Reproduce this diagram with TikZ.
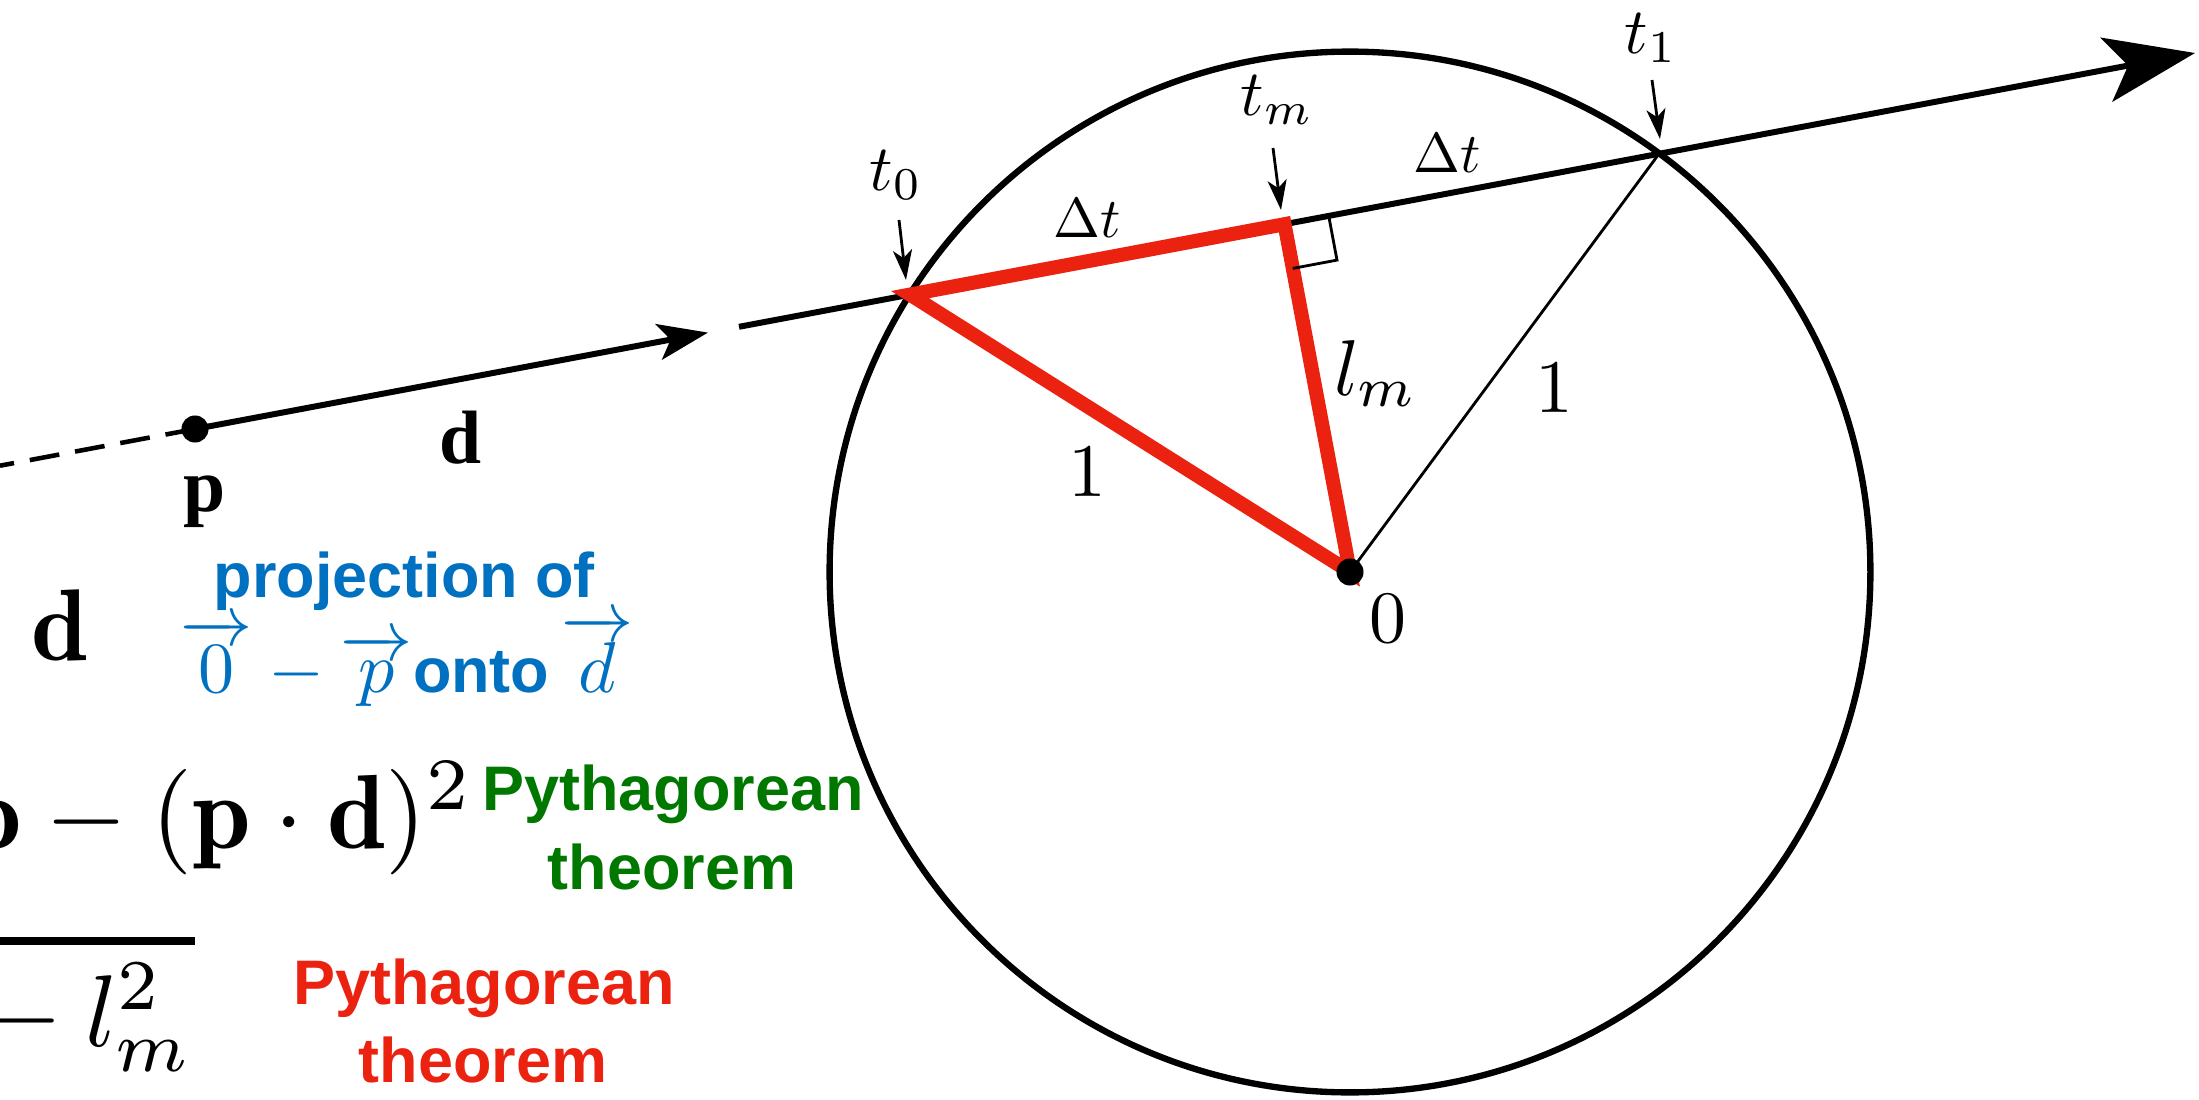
\documentclass[tikz,border=0pt]{standalone}
\usepackage{fontspec}
\usepackage{amsmath}
\usepackage{graphicx}
\usetikzlibrary{arrows.meta,calc}
\setsansfont{Liberation Sans}
\newfontfamily\tms{Liberation Serif}
\definecolor{myblue}{RGB}{0,112,192}
\definecolor{mygreen}{RGB}{0,120,0}
\definecolor{myred}{RGB}{236,34,16}
\tikzset{
  rayline/.style={line width=1.7pt, draw=black},
  circline/.style={line width=1.8pt, draw=black},
  thinline/.style={line width=0.8pt, draw=black},
  redtri/.style={line width=4pt, draw=myred},
  tarrow/.style={line width=0.8pt, -{Stealth[length=0.3cm,width=0.19cm,inset=0.08cm]}},
  dotnode/.style={circle, fill=black, inner sep=0pt, minimum size=0.27cm},
  annot/.style={font=\fontsize{17.9}{20}\selectfont\sffamily\bfseries, inner sep=0pt},
  plain/.style={inner sep=0pt},
  lblbold/.style={font=\fontsize{21.5}{24}\selectfont\tms\bfseries, inner sep=0pt},
}
\begin{document}
\begin{tikzpicture}[x=0.01cm, y=-0.01cm]
\useasboundingbox (0,0) rectangle (2199,1100);
\fill[white] (0,0) rectangle (2199,1100);
\clip (0,0) rectangle (2199,1100);

% geometry
\coordinate (p) at (195,429);
\coordinate (O) at (1350,572);
\coordinate (t0) at (910.0,294.6);
\coordinate (tm) at (1284.5,224.2);
\coordinate (t1) at (1659.0,153.8);
\coordinate (dstart) at (0,465.7);
\coordinate (midtip) at (708,332.6);
\coordinate (resume) at (739,326.8);
\coordinate (rayend) at (2195,53);
\coordinate (sqA) at (1328.7,215.9);
\coordinate (sqB) at (1337.0,260.1);
\coordinate (sqC) at (1292.8,268.4);

% circle
\draw[circline] (O) circle[radius=5.201cm];

% ray
\draw[rayline, line width=1.3pt, dash pattern=on 0.3cm off 0.16cm] (p) -- (dstart);
\draw[rayline, -{Stealth[length=0.5cm,width=0.36cm,inset=0.12cm]}] (p) -- (midtip);
\draw[rayline, -{Stealth[length=0.9cm,width=0.65cm,inset=0.22cm]}] (resume) -- (rayend);

% radii
\draw[thinline] (O) -- (t1);
\draw[thinline] (O) -- (t0);
\draw[thinline] (O) -- (tm);

% red triangle
\draw[redtri] (t0) -- (tm) -- (O) -- cycle;

% right angle marker
\draw[thinline] (sqA) -- (sqB) -- (sqC);

% dots
\node[dotnode] (pdot) at (p) {};
\node[dotnode] (Odot) at (O) {};

% t labels and their arrows
\node[plain, anchor=base west] (lt0) at (869,190) {\scalebox{1.85}{$t_0$}};
\node[plain, anchor=base west] (ltm) at (1240,115) {\scalebox{1.85}{$t_m$}};
\node[plain, anchor=base west] (lt1) at (1624,53) {\scalebox{1.85}{$t_1$}};
\coordinate (a0s) at (899,220);
\coordinate (a0e) at (906,280);
\coordinate (ams) at (1273,148);
\coordinate (ame) at (1281,210);
\coordinate (a1s) at (1652,80);
\coordinate (a1e) at (1660,139);
\draw[tarrow] (a0s) -- (a0e);
\draw[tarrow] (ams) -- (ame);
\draw[tarrow] (a1s) -- (a1e);

% segment labels
\node[plain, anchor=base] (dt1) at (1087,237) {\scalebox{1.6}{$\Delta t$}};
\node[plain, anchor=base] (dt2) at (1447,172) {\scalebox{1.6}{$\Delta t$}};
\node[plain, anchor=base] (lm) at (1376,395) {\scalebox{2.25}{$l_m$}};
\node[plain, anchor=base] (one1) at (1087,496) {\scalebox{2.15}{$1$}};
\node[plain, anchor=base] (one2) at (1554,412) {\scalebox{2.15}{$1$}};
\node[plain, anchor=base] (zero) at (1388,642) {\scalebox{2.1}{$0$}};
\node[lblbold, anchor=base] (lp) at (205,511) {p};
\node[lblbold, anchor=base] (ld) at (461,463) {d};

% equations (cut at the left edge)
\node[plain, anchor=base east] (e1) at (89,660) {\scalebox{2.9}{$\mathbf{d}$}};
\node[plain, anchor=base west] (e2) at (-37,848) {\scalebox{3.0}{$\mathbf{p}-(\mathbf{p}\cdot\mathbf{d})^2$}};
\node[plain, anchor=base west] (e3) at (-40,1046) {\scalebox{2.9}{${}-l_m^2$}};
\coordinate (ovl) at (-10,941);
\coordinate (ovr) at (195,941);
\draw[line width=2.2pt] (ovl) -- (ovr);

% annotations
\node[annot, text=myblue, anchor=base west] (proj1) at (213,597) {projection of};
\node[plain, text=myblue, anchor=base west] (proj2) at (180,692)
  {\scalebox{2.05}{$\overrightarrow{0}-\overrightarrow{p}$}{\fontsize{17.9}{20}\selectfont\sffamily\bfseries onto}\hspace{0.12cm}\scalebox{2.05}{$\overrightarrow{d}$}};
\node[annot, text=mygreen, anchor=base] (pg1) at (673,810) {Pythagorean};
\node[annot, text=mygreen, anchor=base] (pg2) at (672,889) {theorem};
\node[annot, text=myred, anchor=base] (pr1) at (484,1004) {Pythagorean};
\node[annot, text=myred, anchor=base] (pr2) at (483,1082) {theorem};
\end{tikzpicture}
\end{document}
